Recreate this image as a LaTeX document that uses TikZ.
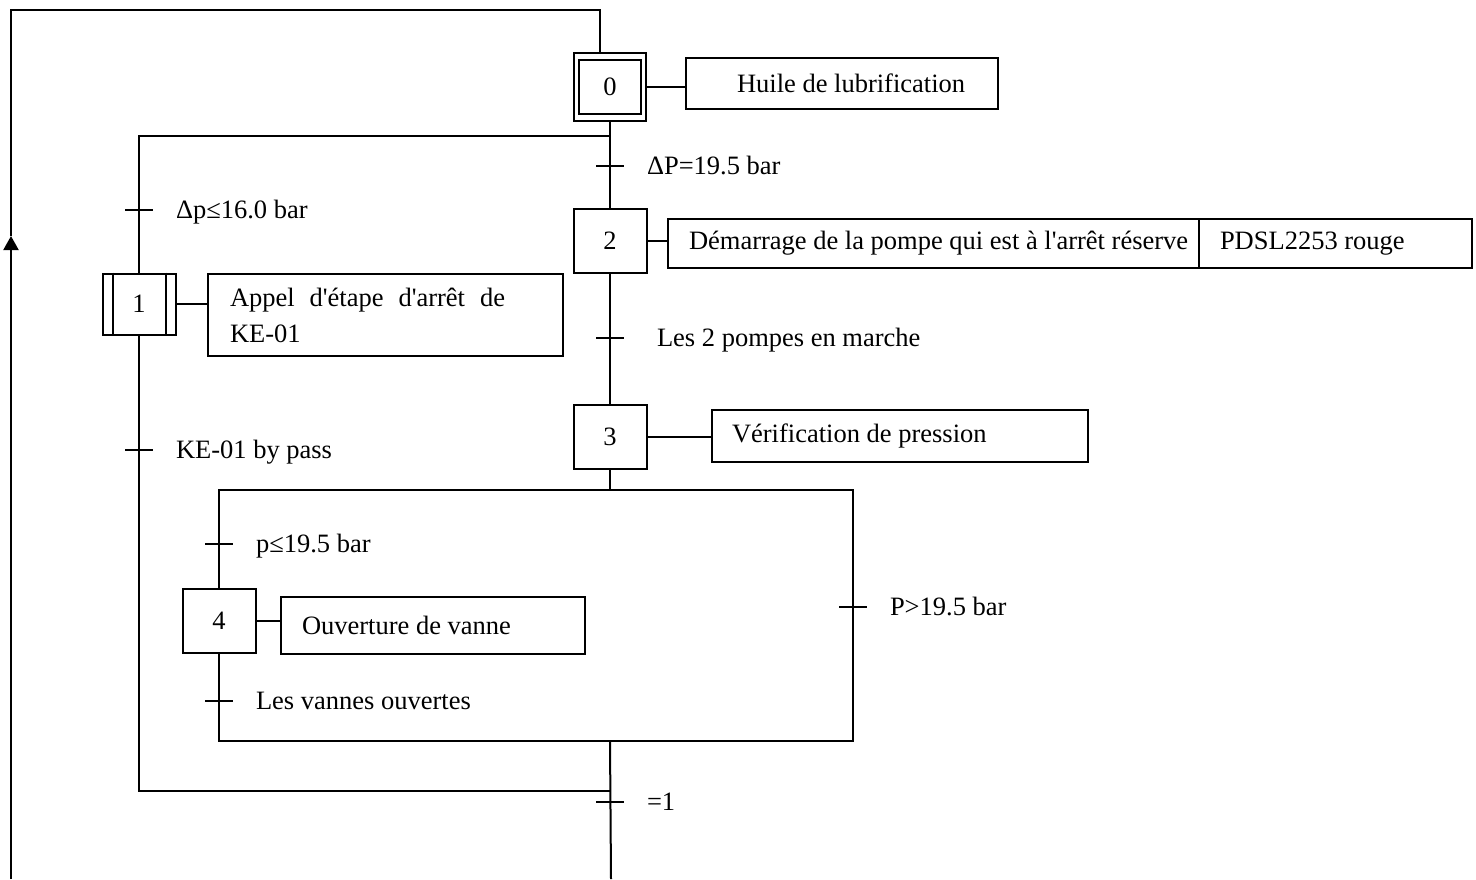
\documentclass[tikz,border=0pt]{standalone}
\usepackage{fontspec}
\setmainfont{Liberation Serif}
\usetikzlibrary{arrows.meta}

\newcommand{\receptivite}[4][36pt]{%
  \coordinate (#2) at #3;
  \draw ([xshift=-14pt]#2) -- ([xshift=14pt]#2);
  \node[cond] (#2-txt) at ([xshift=#1]#2) {#4};
}

\begin{document}
\begin{tikzpicture}[x=1pt, y=-1pt, line width=2pt, font=\fontsize{26.5}{36}\selectfont]
\tikzset{etape/.style={draw, minimum width=73pt, minimum height=64pt, inner sep=0pt}}
\tikzset{action/.style={draw, anchor=north west, inner xsep=0pt, inner ysep=2pt, outer sep=0pt, align=left}}
\tikzset{cond/.style={anchor=west, inner sep=0pt, text height=17.5pt, text depth=0pt}}
\useasboundingbox (0,0) rectangle (1476,879);

\node[etape, minimum width=72pt, minimum height=68pt] (s0) at (610,87) {0};
\draw ([xshift=6pt,yshift=8pt]s0.south west) rectangle ([xshift=-6pt,yshift=-8pt]s0.north east);
\node[etape, minimum height=61pt] (s1) at (139,304) {1};
\draw ([xshift=11pt]s1.north west) -- ([xshift=11pt]s1.south west);
\draw ([xshift=-11pt]s1.north east) -- ([xshift=-11pt]s1.south east);
\node[etape] (s2) at (610,241) {2};
\node[etape] (s3) at (610,437) {3};
\node[etape] (s4) at (219,621) {4};

\node[action, minimum height=51pt] (a0) at (686,58) {\makebox[312pt][l]{\hspace*{51pt}Huile de lubrification}};
\node[action, minimum height=82pt] (a1) at (208,274) {\makebox[355pt][l]{\hspace*{22pt}\makebox[275pt][s]{Appel d\textquotesingle étape d\textquotesingle arrêt de}}\\\makebox[355pt][l]{\hspace*{22pt}KE-01}};
\node[action, minimum height=49pt] (a2) at (668,219) {\makebox[531pt][l]{\hspace*{21pt}Démarrage de la pompe qui est à l\textquotesingle arrêt réserve}};
\node[action, minimum height=49pt] (a2b) at (a2.north east) {\makebox[273pt][l]{\hspace*{21pt}PDSL2253 rouge}};
\node[action, minimum height=52pt] (a3) at (712,410) {\makebox[376pt][l]{\hspace*{20pt}Vérification de pression}};
\node[action, minimum height=57pt] (a4) at (281,597) {\makebox[304pt][l]{\hspace*{21pt}Ouverture de vanne}};

\draw (s0.east) -- (s0.east -| a0.west);
\draw (s1.east) -- (s1.east -| a1.west);
\draw (s2.east) -- (s2.east -| a2.west);
\draw (s3.east) -- (s3.east -| a3.west);
\draw (s4.east) -- (s4.east -| a4.west);

\coordinate (div) at (139,136);
\coordinate (ouvG) at (219,490);
\coordinate (ouvD) at (853,490);
\coordinate (fermG) at (219,741);
\coordinate (fermD) at (853,741);
\coordinate (jonc) at (139,791);
\coordinate (fin) at (611,879);
\coordinate (retour) at (11,879);
\coordinate (fleche) at (11,236);
\coordinate (coin) at (11,10);

\draw (s0.south) -- (s2.north);
\draw (s1.north) -- (div) -- (div -| s0.south);
\draw (s2.south) -- (s3.north);
\draw (s3.south) -- (s3.south |- ouvG);
\draw (s4.north) -- (ouvG) -- (ouvD) -- (fermD) -- (fermG) -- (s4.south);
\draw (s3.south |- fermG) -- (fin);
\draw (s1.south) -- (jonc) -- (jonc -| s3.south);
\draw[-{Triangle[length=14pt,width=15pt]}] (retour) -- (fleche);
\draw (fleche) -- (coin) -| ([xshift=-10pt]s0.north);

\receptivite{t1}{(610,166)}{ΔP=19.5 bar}
\receptivite{t2}{(139,210)}{Δp≤16.0 bar}
\receptivite[46pt]{t3}{(610,338)}{Les 2 pompes en marche}
\receptivite{t4}{(139,450)}{KE-01 by pass}
\receptivite{t5}{(219,544)}{p≤19.5 bar}
\receptivite{t6}{(219,701)}{Les vannes ouvertes}
\receptivite{t7}{(853,607)}{P>19.5 bar}
\receptivite{t8}{(610,802)}{=1}
\end{tikzpicture}
\end{document}
